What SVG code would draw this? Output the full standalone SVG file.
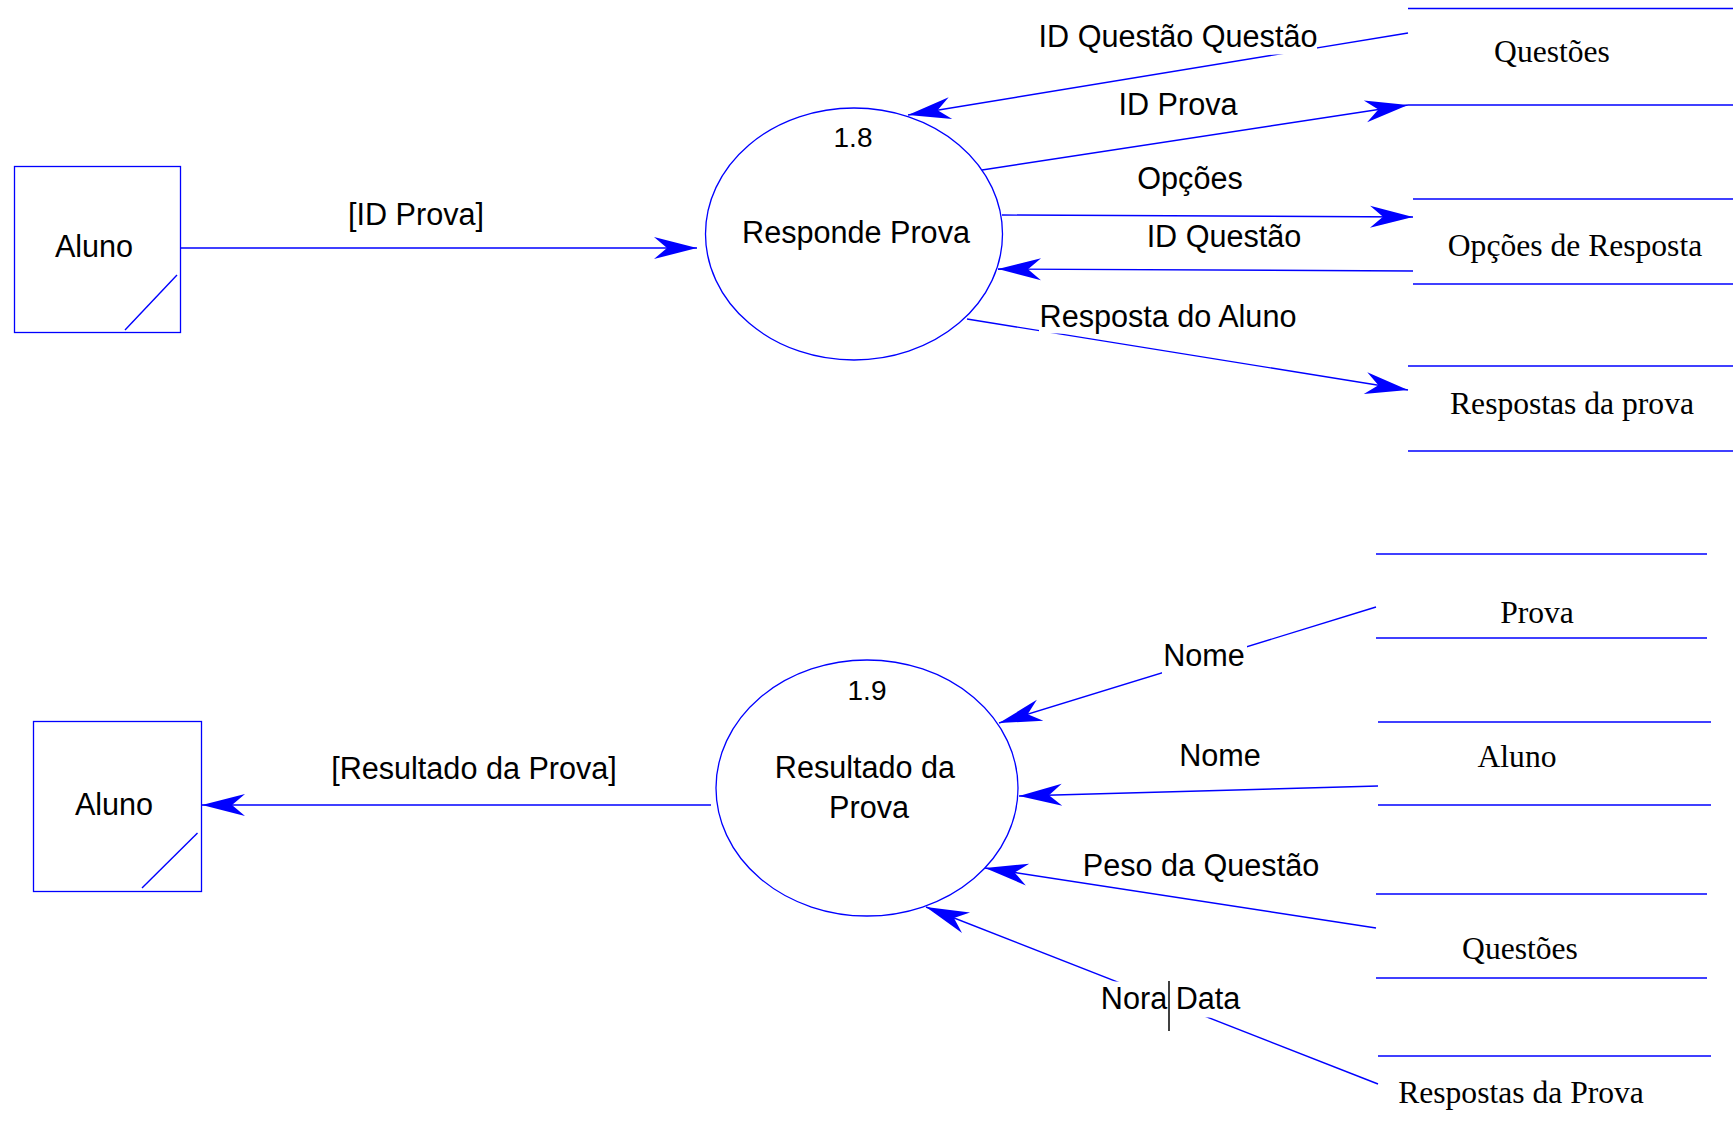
<svg xmlns="http://www.w3.org/2000/svg" width="1733" height="1137" viewBox="0 0 1733 1137">
<style>
.ln{stroke:#0000ff;stroke-width:1.4;fill:none}
.fl{stroke:#0000ff;stroke-width:1.4;fill:none;marker-end:url(#arr)}
.shape{stroke:#0000ff;stroke-width:1.3;fill:#ffffff}
.st{stroke:#0000ff;stroke-width:1.5}
.s{font-family:"Liberation Sans",Arial,sans-serif;font-size:30.6px;fill:#000;text-anchor:middle}
.n{font-family:"Liberation Sans",Arial,sans-serif;font-size:28px;fill:#000;text-anchor:middle}
.t{font-family:"Liberation Serif","Times New Roman",serif;font-size:31.6px;fill:#000;text-anchor:middle}
.bg{fill:#ffffff}
</style>
<defs>
<marker id="arr" markerUnits="userSpaceOnUse" viewBox="-44 -13 46 26" markerWidth="46" markerHeight="26" refX="0" refY="0" orient="auto">
<path d="M0,0 L-43,-11 L-30,0 L-43,11 Z" fill="#0000ff"/>
</marker>
</defs>
<rect width="1733" height="1137" fill="#ffffff"/>

<g id="connectors">
<line class="fl" x1="180" y1="248" x2="697" y2="248"/>
<line class="fl" x1="1408" y1="33" x2="908" y2="115"/>
<line class="fl" x1="982" y1="170" x2="1408" y2="105"/>
<line class="fl" x1="1002" y1="215" x2="1413" y2="217"/>
<line class="fl" x1="1413" y1="271" x2="998" y2="269"/>
<line class="fl" x1="967" y1="319" x2="1408" y2="390"/>
<line class="fl" x1="711" y1="805" x2="202" y2="805"/>
<line class="fl" x1="1376" y1="607" x2="999" y2="723"/>
<line class="fl" x1="1378" y1="786" x2="1019" y2="796"/>
<line class="fl" x1="1376" y1="928" x2="985" y2="868"/>
<line class="fl" x1="1378" y1="1084" x2="926" y2="907"/>
</g>

<g id="labels">
<text class="s" x="416" y="225">[ID Prova]</text>
<rect class="bg" x="1038" y="18" width="279" height="36.5"/>
<text class="s" x="1178" y="47">ID Questão Questão</text>
<text class="s" x="1178" y="115">ID Prova</text>
<text class="s" x="1190" y="189">Opções</text>
<text class="s" x="1224" y="247">ID Questão</text>
<rect class="bg" x="1039" y="298" width="260" height="35.5"/>
<text class="s" x="1168" y="327">Resposta do Aluno</text>
<text class="s" x="474" y="779">[Resultado da Prova]</text>
<rect class="bg" x="1162" y="634" width="85" height="40"/>
<text class="s" x="1204" y="666">Nome</text>
<text class="s" x="1220" y="766">Nome</text>
<text class="s" x="1201" y="876">Peso da Questão</text>
<rect class="bg" x="1097" y="981.5" width="146" height="36"/>
<text class="s" x="1134" y="1009">Nora</text>
<line x1="1169" y1="981" x2="1169" y2="1031" stroke="#000" stroke-width="1.5"/>
<text class="s" x="1208" y="1009">Data</text>
</g>

<g id="aluno-1">
<rect class="shape" x="14.5" y="166.5" width="166" height="166"/>
<line class="ln" x1="177" y1="275" x2="125" y2="330"/>
<text class="s" x="94" y="257">Aluno</text>
</g>

<g id="process-1-8">
<ellipse class="shape" cx="854" cy="234" rx="148.5" ry="126"/>
<text class="n" x="853" y="147">1.8</text>
<text class="s" x="856" y="243">Responde Prova</text>
</g>

<g id="store-questoes-1">
<line class="st" x1="1408" y1="8.5" x2="1733" y2="8.5"/>
<line class="st" x1="1408" y1="105" x2="1733" y2="105"/>
<text class="t" x="1552" y="62">Questões</text>
</g>

<g id="store-opcoes">
<line class="st" x1="1413" y1="199" x2="1733" y2="199"/>
<line class="st" x1="1413" y1="284" x2="1733" y2="284"/>
<text class="t" x="1575" y="256">Opções de Resposta</text>
</g>

<g id="store-respostas-1">
<line class="st" x1="1408" y1="366" x2="1733" y2="366"/>
<line class="st" x1="1408" y1="451" x2="1733" y2="451"/>
<text class="t" x="1572" y="414">Respostas da prova</text>
</g>

<g id="aluno-2">
<rect class="shape" x="33.5" y="721.5" width="168" height="170"/>
<line class="ln" x1="197.5" y1="833" x2="142" y2="888"/>
<text class="s" x="114" y="815">Aluno</text>
</g>

<g id="process-1-9">
<ellipse class="shape" cx="867" cy="788" rx="151" ry="128"/>
<text class="n" x="867" y="700">1.9</text>
<text class="s" x="865" y="778">Resultado da</text>
<text class="s" x="869" y="818">Prova</text>
</g>

<g id="store-prova">
<line class="st" x1="1376" y1="554" x2="1707" y2="554"/>
<line class="st" x1="1376" y1="638" x2="1707" y2="638"/>
<text class="t" x="1537" y="623">Prova</text>
</g>

<g id="store-aluno">
<line class="st" x1="1378" y1="722" x2="1711" y2="722"/>
<line class="st" x1="1378" y1="805" x2="1711" y2="805"/>
<text class="t" x="1517" y="767">Aluno</text>
</g>

<g id="store-questoes-2">
<line class="st" x1="1376" y1="894" x2="1707" y2="894"/>
<line class="st" x1="1376" y1="978" x2="1707" y2="978"/>
<text class="t" x="1520" y="959">Questões</text>
</g>

<g id="store-respostas-2">
<line class="st" x1="1378" y1="1056" x2="1711" y2="1056"/>
<text class="t" x="1521" y="1103">Respostas da Prova</text>
</g>
</svg>
